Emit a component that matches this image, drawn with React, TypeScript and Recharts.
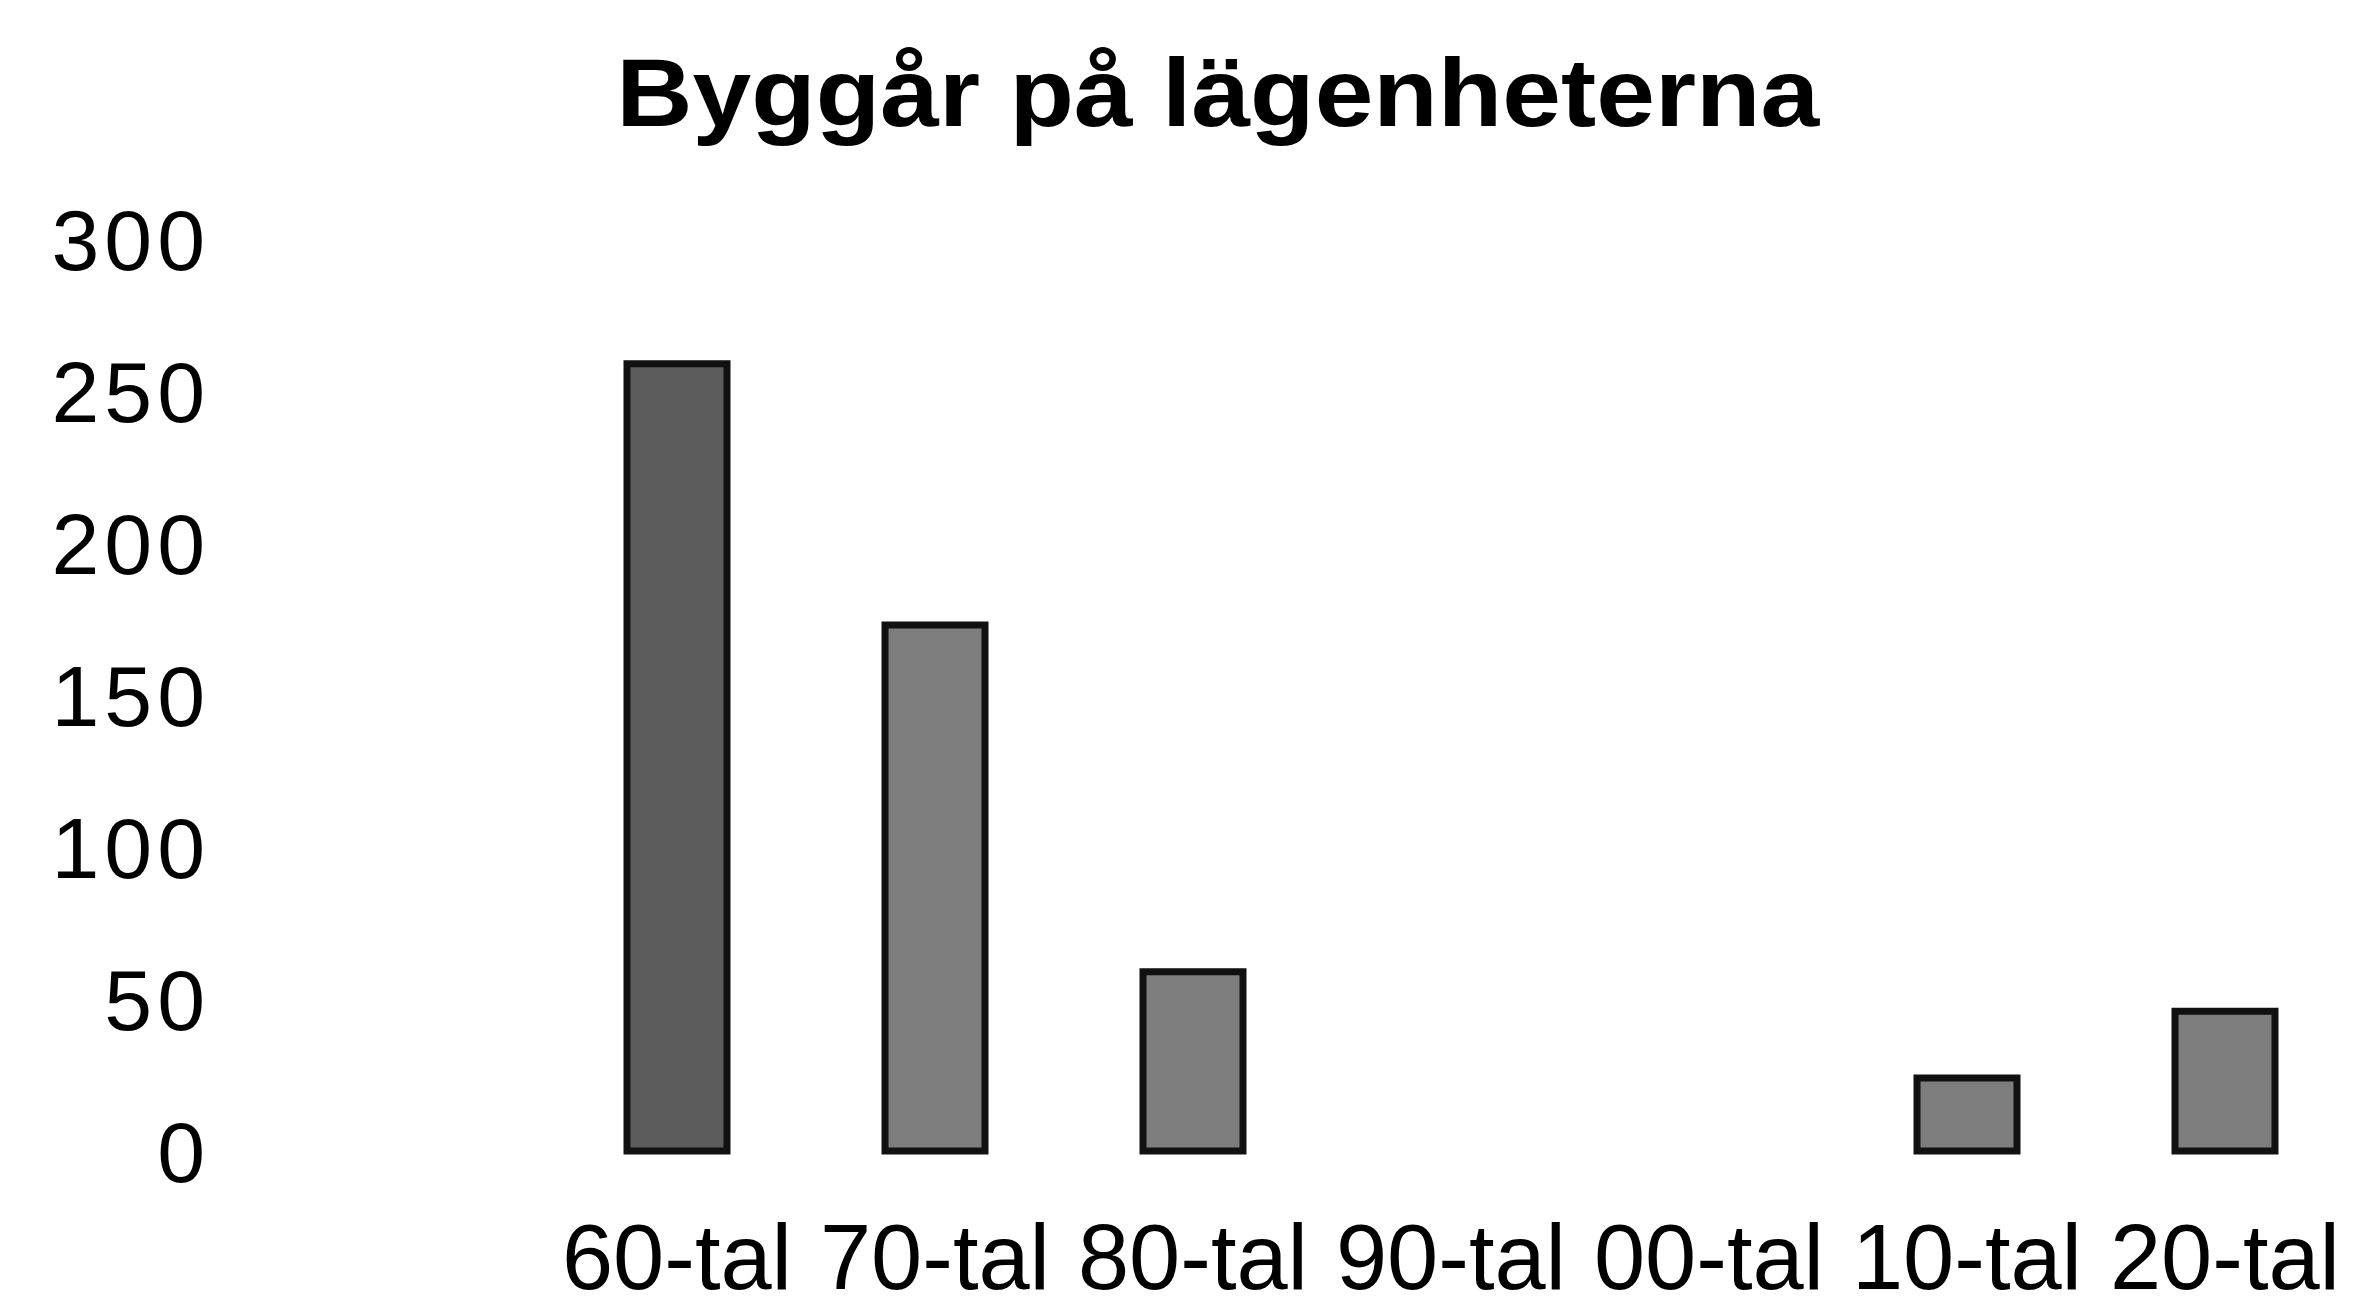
import { BarChart, Bar, XAxis, YAxis, Cell } from 'recharts'

const decades = ['60-tal', '70-tal', '80-tal', '90-tal', '00-tal', '10-tal', '20-tal']
const apartments = [259, 173, 59, 0, 0, 24, 46]
const yTicks = [0, 50, 100, 150, 200, 250, 300]

const data = decades.map((d, i) => ({ decade: d, count: apartments[i] }))

const font = '"Liberation Sans", Arial, sans-serif'

export default function App() {
  return (
    <div style={{ position: 'relative', width: 2364, height: 1311, background: '#fff', overflow: 'hidden' }}>
      <style>{`body { margin: 0; }`}</style>
      <div
        style={{
          position: 'absolute',
          left: 0,
          width: 2436,
          top: 33,
          textAlign: 'center',
          fontFamily: font,
          fontWeight: 'bold',
          fontSize: 96,
          color: '#000',
          lineHeight: '120px',
        }}
      >
        <span style={{ display: 'inline-block', transform: 'scaleX(1.1)' }}>Byggår på lägenheterna</span>
      </div>
      <BarChart
        width={2364}
        height={1311}
        data={data}
        margin={{ top: 239, right: 10, bottom: 0, left: 0 }}
        barSize={100}
      >
        <XAxis
          dataKey="decade"
          height={160}
          axisLine={false}
          tickLine={false}
          tickMargin={67}
          interval={0}
          tick={{ fontSize: 92, fill: '#000', fontFamily: font }}
        />
        <YAxis
          width={548}
          domain={[0, 300]}
          ticks={yTicks}
          axisLine={false}
          tickLine={false}
          tickMargin={332}
          tick={{ fontSize: 86, fill: '#000', fontFamily: font, letterSpacing: 5 }}
        />
        <Bar dataKey="count" stroke="#111" strokeWidth={7} isAnimationActive={false}>
          {data.map((d, i) => (
            <Cell key={d.decade} fill={i === 0 ? '#5c5c5c' : '#7d7d7d'} />
          ))}
        </Bar>
      </BarChart>
    </div>
  )
}
